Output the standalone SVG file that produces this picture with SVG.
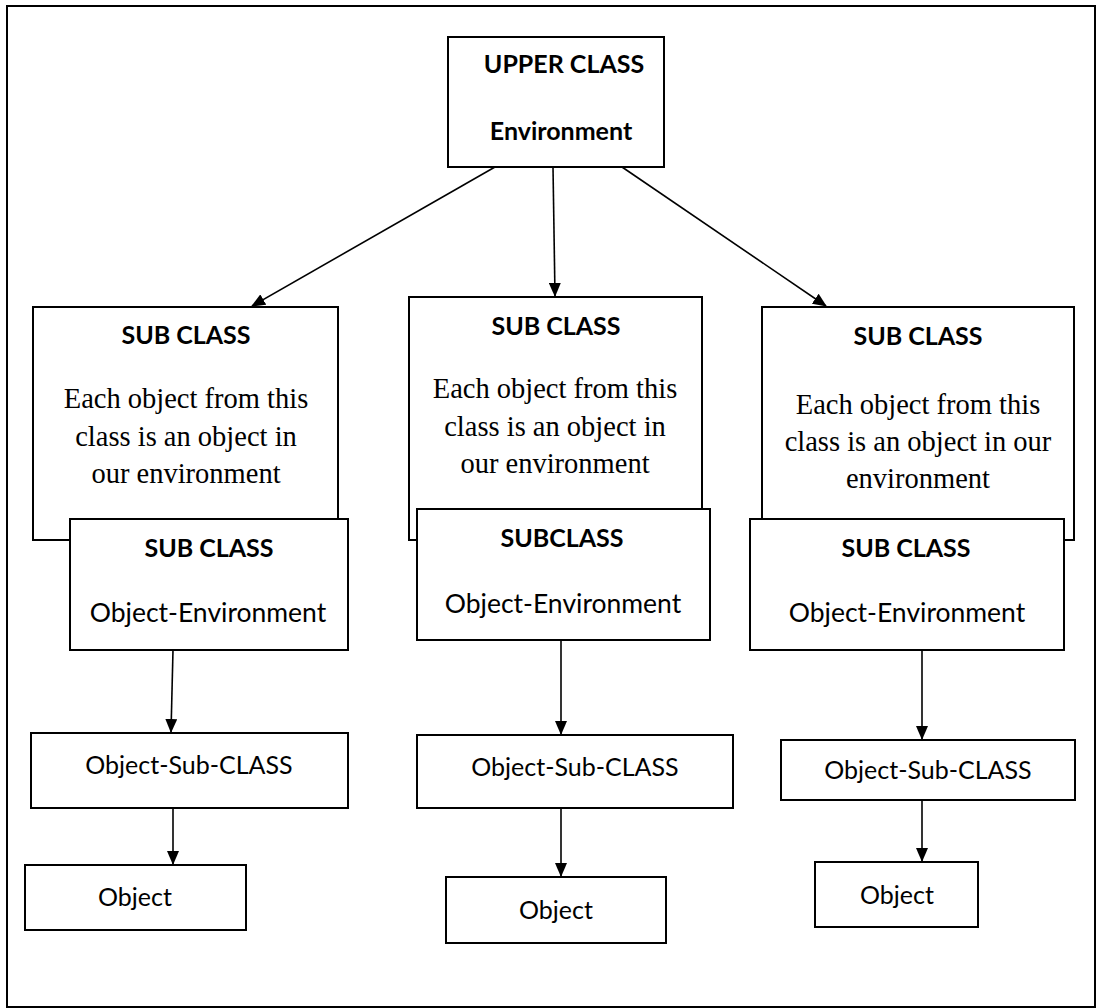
<svg xmlns="http://www.w3.org/2000/svg" width="1096" height="1008" viewBox="0 0 1096 1008">
  <style>
    .box { fill: #ffffff; stroke: #000000; stroke-width: 2; }
    .frame { fill: none; stroke: #000000; stroke-width: 2; }
    .wire { stroke: #000000; stroke-width: 1.6; fill: none; }
    .hd { font-family: Lato, "Open Sans", sans-serif; font-weight: bold; font-size: 25px; fill: #000; text-anchor: middle; }
    .lb { font-family: Lato, "Open Sans", sans-serif; font-size: 25px; fill: #000; text-anchor: middle; }
    .env { font-size: 26.5px; }
    .tx { font-family: "Liberation Serif", "Times New Roman", serif; font-size: 28.5px; fill: #000; text-anchor: middle; }
  </style>
  <defs>
    <marker id="ah" viewBox="0 0 14 12" refX="13" refY="6" markerWidth="14" markerHeight="12" markerUnits="userSpaceOnUse" orient="auto">
      <path d="M0,0 L14,6 L0,12 Z" fill="#000"/>
    </marker>
  </defs>

  <rect fill="#ffffff" x="0" y="0" width="1096" height="1008"/>
  <!-- page frame -->
  <rect class="frame" x="7" y="6" width="1088" height="1001"/>

  <!-- top node -->
  <g id="upper-class">
    <rect class="box" x="448" y="37" width="216" height="130"/>
    <text class="hd" x="564" y="73">UPPER CLASS</text>
    <text class="hd" x="561" y="140">Environment</text>
  </g>

  <!-- left column -->
  <g id="sub-class-left">
    <rect class="box" x="33" y="307" width="305" height="233"/>
    <text class="hd" x="186" y="344">SUB CLASS</text>
    <text class="tx" x="186" y="408">Each object from this</text>
    <text class="tx" x="186" y="446">class is an object in</text>
    <text class="tx" x="186" y="483">our environment</text>
  </g>
  <g id="object-environment-left">
    <rect class="box" x="70" y="519" width="278" height="131"/>
    <text class="hd" x="209" y="557">SUB CLASS</text>
    <text class="lb env" x="208" y="622">Object-Environment</text>
  </g>
  <g id="object-sub-class-left">
    <rect class="box" x="31" y="733" width="317" height="75"/>
    <text class="lb" x="189" y="774">Object-Sub-CLASS</text>
  </g>
  <g id="object-left">
    <rect class="box" x="25" y="865" width="221" height="65"/>
    <text class="lb" x="135" y="906">Object</text>
  </g>

  <!-- middle column -->
  <g id="sub-class-middle">
    <rect class="box" x="409" y="297" width="293" height="243"/>
    <text class="hd" x="556" y="335">SUB CLASS</text>
    <text class="tx" x="555" y="398">Each object from this</text>
    <text class="tx" x="555" y="436">class is an object in</text>
    <text class="tx" x="555" y="473">our environment</text>
  </g>
  <g id="object-environment-middle">
    <rect class="box" x="417" y="509" width="293" height="131"/>
    <text class="hd" x="562" y="547">SUBCLASS</text>
    <text class="lb env" x="563" y="613">Object-Environment</text>
  </g>
  <g id="object-sub-class-middle">
    <rect class="box" x="417" y="735" width="316" height="73"/>
    <text class="lb" x="575" y="776">Object-Sub-CLASS</text>
  </g>
  <g id="object-middle">
    <rect class="box" x="446" y="877" width="220" height="66"/>
    <text class="lb" x="556" y="919">Object</text>
  </g>

  <!-- right column -->
  <g id="sub-class-right">
    <rect class="box" x="762" y="307" width="312" height="233"/>
    <text class="hd" x="918" y="345">SUB CLASS</text>
    <text class="tx" x="918" y="414">Each object from this</text>
    <text class="tx" x="918" y="451">class is an object in our</text>
    <text class="tx" x="918" y="488">environment</text>
  </g>
  <g id="object-environment-right">
    <rect class="box" x="750" y="519" width="314" height="131"/>
    <text class="hd" x="906" y="557">SUB CLASS</text>
    <text class="lb env" x="907" y="622">Object-Environment</text>
  </g>
  <g id="object-sub-class-right">
    <rect class="box" x="781" y="740" width="294" height="60"/>
    <text class="lb" x="928" y="779">Object-Sub-CLASS</text>
  </g>
  <g id="object-right">
    <rect class="box" x="815" y="862" width="163" height="65"/>
    <text class="lb" x="897" y="904">Object</text>
  </g>

  <!-- connectors -->
  <g id="connectors">
    <line class="wire" x1="495" y1="167" x2="252" y2="306" marker-end="url(#ah)"/>
    <line class="wire" x1="553" y1="167" x2="555" y2="296" marker-end="url(#ah)"/>
    <line class="wire" x1="622" y1="167" x2="826" y2="306" marker-end="url(#ah)"/>
    <line class="wire" x1="173" y1="650" x2="171" y2="732" marker-end="url(#ah)"/>
    <line class="wire" x1="561" y1="640" x2="561" y2="734" marker-end="url(#ah)"/>
    <line class="wire" x1="922" y1="650" x2="922" y2="739" marker-end="url(#ah)"/>
    <line class="wire" x1="173" y1="808" x2="173" y2="864" marker-end="url(#ah)"/>
    <line class="wire" x1="561" y1="808" x2="561" y2="876" marker-end="url(#ah)"/>
    <line class="wire" x1="922" y1="800" x2="922" y2="861" marker-end="url(#ah)"/>
  </g>
</svg>
